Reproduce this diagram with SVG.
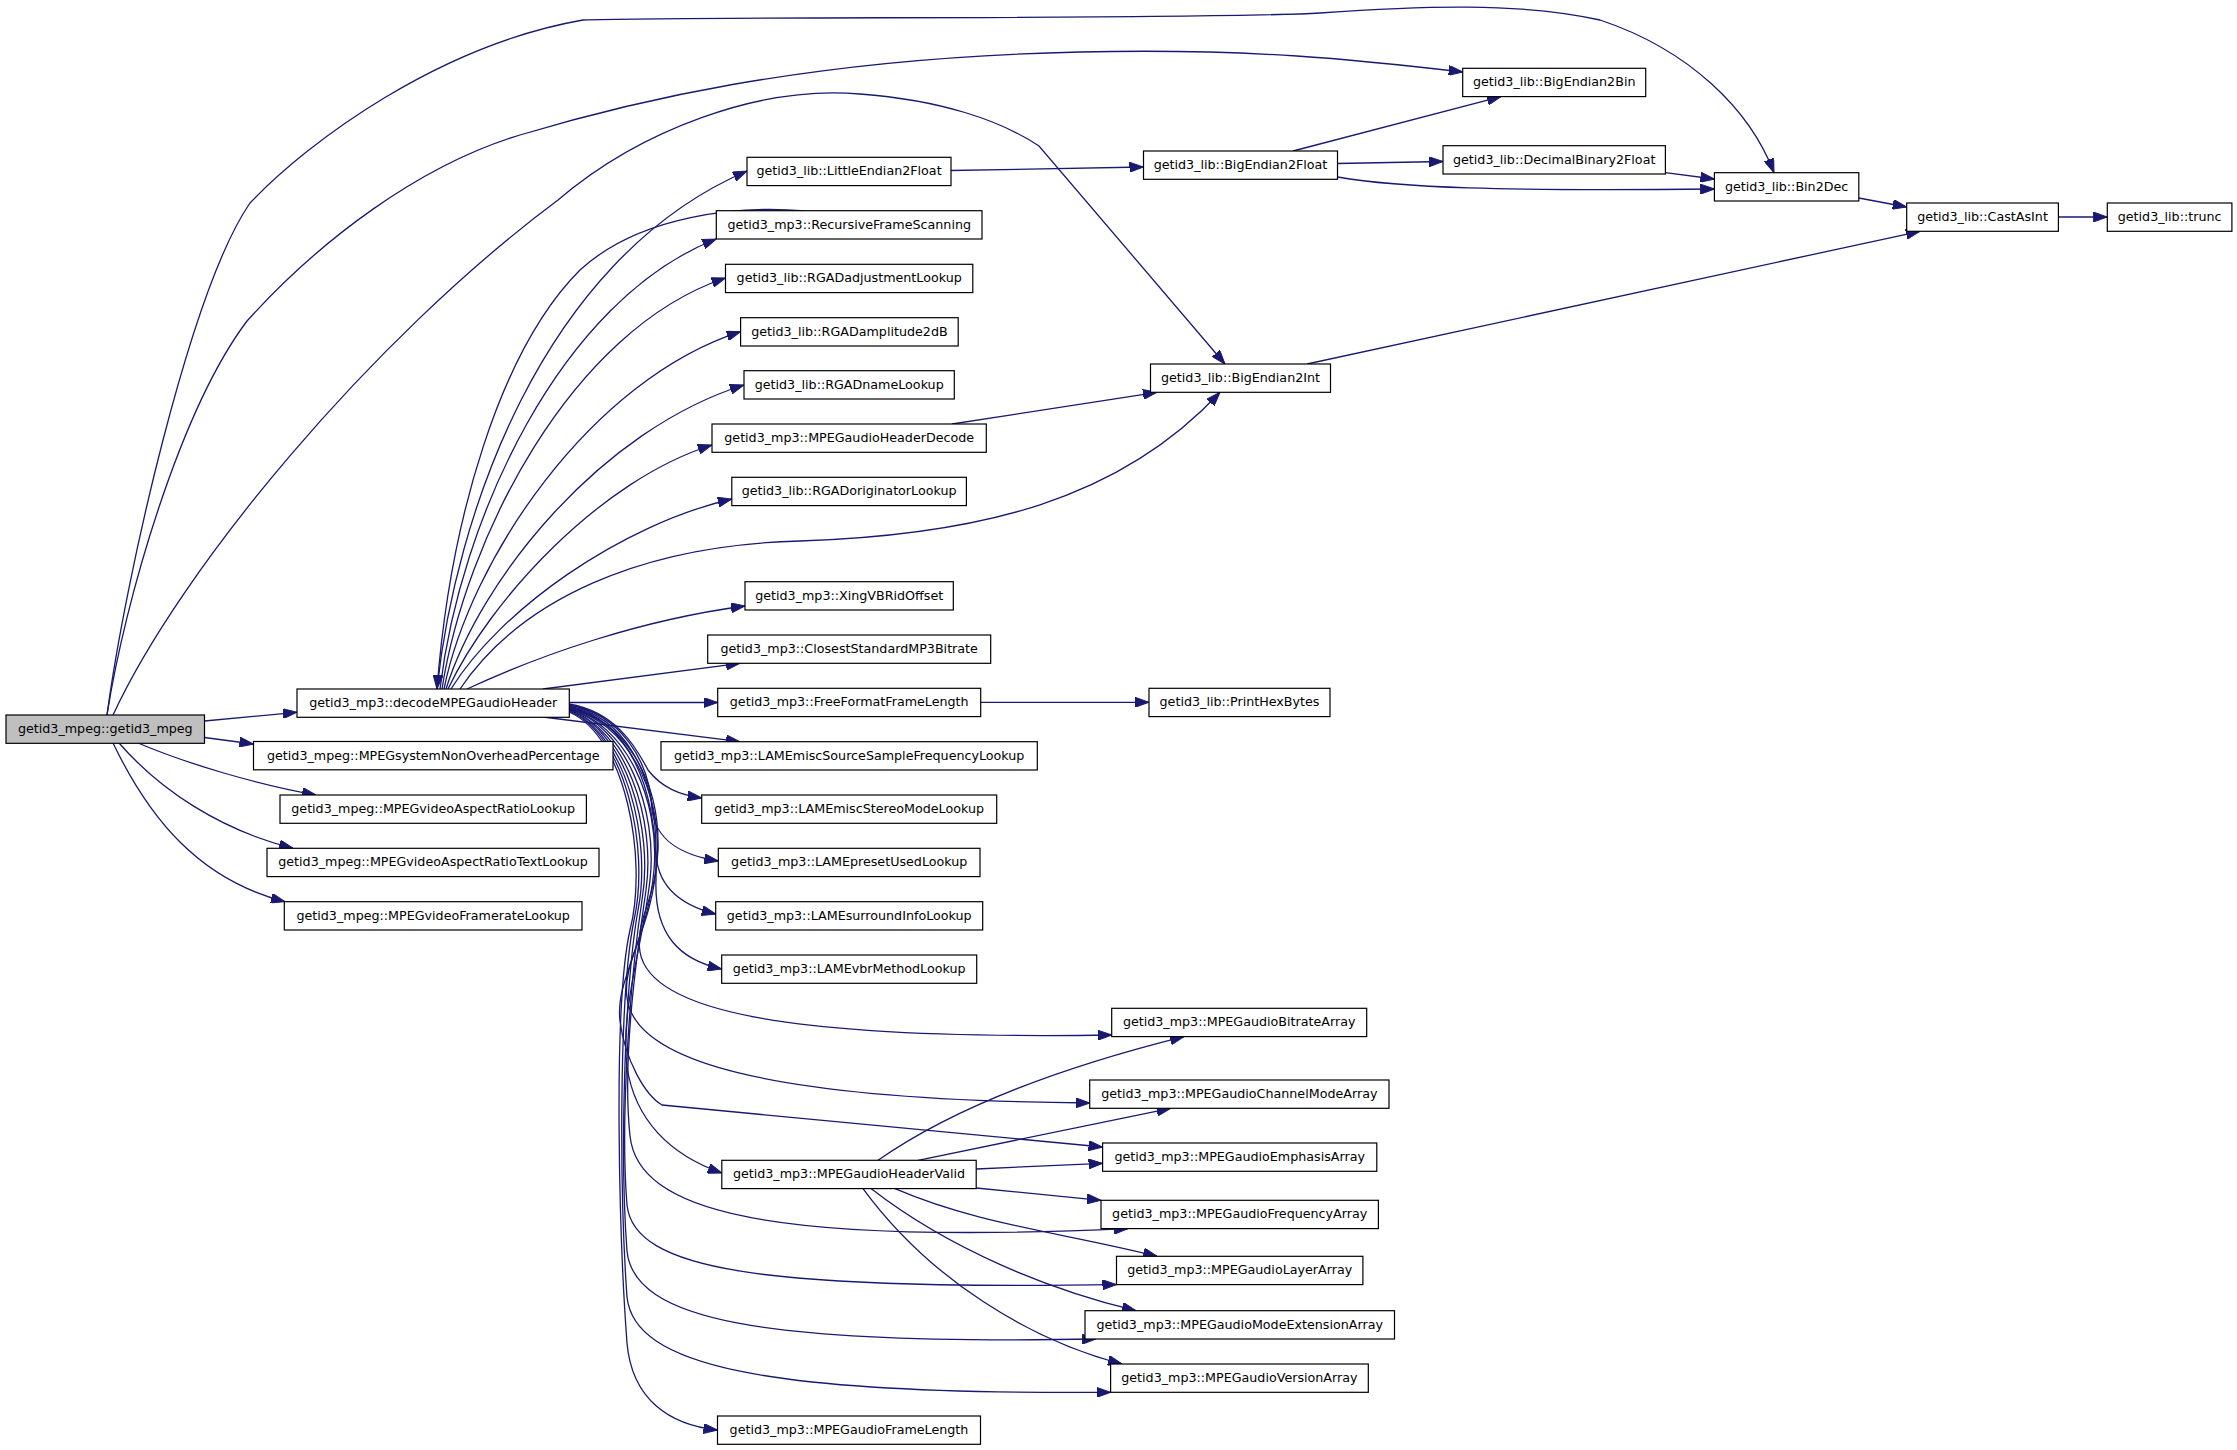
<svg xmlns="http://www.w3.org/2000/svg" width="2237" height="1450" viewBox="0 0 2237 1450">
<style>
.node rect{fill:#fff;stroke:#000;stroke-width:1.2}
.node text{font-family:"DejaVu Sans","Liberation Sans",sans-serif;font-size:12.7px;text-anchor:middle;fill:#000}
#n0 rect{fill:#bfbfbf}
.edges path{fill:none;stroke:#191970;stroke-width:1.3;marker-end:url(#arr)}
</style>
<defs>
<marker id="arr" markerUnits="userSpaceOnUse" markerWidth="14" markerHeight="10" refX="14" refY="5" orient="auto">
<path d="M0,0 L14,5 L0,10 z" fill="#191970" stroke="#191970" stroke-width="1"/>
</marker>
</defs>
<rect width="2237" height="1450" fill="#fff"/>
<g class="edges">
<path d="M204.5,721 L297,712.3"/>
<path d="M204.5,737.5 L253.5,744"/>
<path d="M138,743 C190,765 260,785 316,795"/>
<path d="M119,743 C160,790 220,830 293,848.3"/>
<path d="M113,743 C150,820 200,880 285,901.7"/>
<path d="M107,715 C125,580 190,290 250,203 C310,140 440,45 583,20 C700,16 1200,20 1320,13 C1420,6 1520,2 1600,20 C1690,50 1750,110 1774,172.7"/>
<path d="M107,715 C125,600 180,410 247,321 C320,240 420,165 520,135 C620,105 800,58 1080,52 C1250,48 1360,60 1462.7,72"/>
<path d="M113,715 C180,570 370,340 558,200 C640,130 760,85 860,94 C940,100 1000,120 1039,146 L1225,364"/>
<path d="M437,689 C455,520 540,260 747,171"/>
<path d="M805,211 C740,205 640,215 580,270 C500,350 450,520 437,689"/>
<path d="M440,689 C460,520 560,300 716.3,239"/>
<path d="M442,689 C465,540 570,330 725.5,278"/>
<path d="M444,689 C470,560 590,380 740.6,331.6"/>
<path d="M446,689 C480,580 600,430 744,385"/>
<path d="M448,689 C490,600 600,480 712,445"/>
<path d="M451,689 C500,610 620,525 731.8,499"/>
<path d="M460,689 C520,600 640,545 800,541 C980,535 1120,500 1220,392.3"/>
<path d="M467,689 C540,655 640,620 745,606"/>
<path d="M543,689 L740,663.3"/>
<path d="M569.3,702.5 L717.7,702.5"/>
<path d="M543,717 L740,741.7"/>
<path d="M569,704 C615,712 635,745 648,770 C662,788 680,795 701.7,798"/>
<path d="M569,705 C620,714 650,760 652,810 C656,840 680,855 718.3,861"/>
<path d="M569,706 C622,716 656,770 656,850 C656,885 680,905 715.7,914"/>
<path d="M569,707 C624,718 658,780 656,880 C654,935 680,960 721.7,969"/>
<path d="M569,708 C625,720 660,780 658,850 C656,900 635,920 640,952 C650,1010 780,1040 1111.7,1035"/>
<path d="M569,708 C626,722 662,790 657,860 C652,930 622,960 627,998 C635,1060 760,1100 1089.7,1103"/>
<path d="M569,709 C626,724 660,800 654,870 C648,940 615,980 620,1021 C625,1060 645,1095 662,1105 L1102.6,1147"/>
<path d="M569,709 C626,726 658,810 650,880 C642,950 620,1010 627,1067 C635,1120 670,1155 721.8,1173"/>
<path d="M569,710 C626,728 656,820 646,890 C636,960 622,1060 630,1136 C638,1210 760,1245 1128,1228.6"/>
<path d="M569,710 C626,730 654,830 642,900 C630,980 620,1120 627,1205 C634,1270 760,1290 1116.5,1284.6"/>
<path d="M569,711 C626,732 652,840 638,910 C624,990 620,1160 627,1251 C634,1320 760,1345 1096,1339"/>
<path d="M569,711 C626,734 650,850 634,920 C618,1000 620,1200 627,1297 C634,1365 760,1395 1110.6,1392.3"/>
<path d="M569,712 C626,736 648,860 630,930 C612,1010 620,1250 627,1343 C632,1400 670,1425 717.5,1430"/>
<path d="M878,1160.3 C950,1110 1050,1070 1184,1036.6"/>
<path d="M918,1160.3 L1170.6,1108.3"/>
<path d="M976.2,1169 L1102.6,1163.3"/>
<path d="M976.2,1188 L1101,1200.3"/>
<path d="M895,1188.6 C980,1225 1060,1232 1157,1256.3"/>
<path d="M871,1188.6 C950,1250 1050,1290 1136,1310.7"/>
<path d="M863,1188.6 C930,1280 1030,1340 1122,1364"/>
<path d="M951,170.5 L1143.5,167"/>
<path d="M1293,151 L1501,96.6"/>
<path d="M1337.5,163.5 L1443,161.5"/>
<path d="M1337.5,177 C1400,188 1500,191 1714.4,189"/>
<path d="M1665.4,172.7 L1714.4,179"/>
<path d="M1858.8,198 L1906.7,207"/>
<path d="M2058.4,217 L2107.3,217"/>
<path d="M1307,364 L1920,231.3"/>
<path d="M952,424 L1157,392.3"/>
<path d="M980.7,702.3 L1149,702.3"/>
</g>
<g id="n0" class="node"><rect x="6" y="715" width="198.5" height="28.3"/><text x="105.3" y="733">getid3_mpeg::getid3_mpeg</text></g>
<g id="n1" class="node"><rect x="297" y="689" width="272.3" height="28.3"/><text x="433.2" y="707">getid3_mp3::decodeMPEGaudioHeader</text></g>
<g id="n2" class="node"><rect x="253.5" y="741.5" width="359.5" height="28.3"/><text x="433.3" y="759.5">getid3_mpeg::MPEGsystemNonOverheadPercentage</text></g>
<g id="n3" class="node"><rect x="280" y="795" width="306.4" height="28.3"/><text x="433.2" y="813">getid3_mpeg::MPEGvideoAspectRatioLookup</text></g>
<g id="n4" class="node"><rect x="267" y="848.3" width="332" height="28.3"/><text x="433" y="866.3">getid3_mpeg::MPEGvideoAspectRatioTextLookup</text></g>
<g id="n5" class="node"><rect x="284.3" y="901.7" width="297.7" height="28.3"/><text x="433.2" y="919.7">getid3_mpeg::MPEGvideoFramerateLookup</text></g>
<g id="n6" class="node"><rect x="747" y="157.3" width="204" height="28.3"/><text x="849" y="175.3">getid3_lib::LittleEndian2Float</text></g>
<g id="n7" class="node"><rect x="716.3" y="210.7" width="265.7" height="28.3"/><text x="849.2" y="228.7">getid3_mp3::RecursiveFrameScanning</text></g>
<g id="n8" class="node"><rect x="725.5" y="264.3" width="247.3" height="28.3"/><text x="849.2" y="282.3">getid3_lib::RGADadjustmentLookup</text></g>
<g id="n9" class="node"><rect x="740.6" y="317.7" width="217.6" height="28.3"/><text x="849.4" y="335.7">getid3_lib::RGADamplitude2dB</text></g>
<g id="n10" class="node"><rect x="744" y="370.7" width="210.3" height="28.3"/><text x="849.2" y="388.7">getid3_lib::RGADnameLookup</text></g>
<g id="n11" class="node"><rect x="712" y="424" width="274.3" height="28.3"/><text x="849.2" y="442">getid3_mp3::MPEGaudioHeaderDecode</text></g>
<g id="n12" class="node"><rect x="731.8" y="477.3" width="234.6" height="28.3"/><text x="849.1" y="495.3">getid3_lib::RGADoriginatorLookup</text></g>
<g id="n13" class="node"><rect x="745" y="581.7" width="208.3" height="28.3"/><text x="849.2" y="599.7">getid3_mp3::XingVBRidOffset</text></g>
<g id="n14" class="node"><rect x="707.7" y="635" width="283" height="28.3"/><text x="849.2" y="653">getid3_mp3::ClosestStandardMP3Bitrate</text></g>
<g id="n15" class="node"><rect x="717.7" y="688.3" width="263" height="28.3"/><text x="849.2" y="706.3">getid3_mp3::FreeFormatFrameLength</text></g>
<g id="n16" class="node"><rect x="661" y="741.7" width="376.3" height="28.3"/><text x="849.2" y="759.7">getid3_mp3::LAMEmiscSourceSampleFrequencyLookup</text></g>
<g id="n17" class="node"><rect x="701.7" y="795" width="295" height="28.3"/><text x="849.2" y="813">getid3_mp3::LAMEmiscStereoModeLookup</text></g>
<g id="n18" class="node"><rect x="718.3" y="848.3" width="261.7" height="28.3"/><text x="849.2" y="866.3">getid3_mp3::LAMEpresetUsedLookup</text></g>
<g id="n19" class="node"><rect x="715.7" y="901.7" width="267" height="28.3"/><text x="849.2" y="919.7">getid3_mp3::LAMEsurroundInfoLookup</text></g>
<g id="n20" class="node"><rect x="721.7" y="955" width="255" height="28.3"/><text x="849.2" y="973">getid3_mp3::LAMEvbrMethodLookup</text></g>
<g id="n21" class="node"><rect x="721.8" y="1160.3" width="254.4" height="28.3"/><text x="849" y="1178.3">getid3_mp3::MPEGaudioHeaderValid</text></g>
<g id="n22" class="node"><rect x="717.5" y="1416" width="263" height="28.3"/><text x="849" y="1434">getid3_mp3::MPEGaudioFrameLength</text></g>
<g id="n23" class="node"><rect x="1111.7" y="1008.3" width="255" height="28.3"/><text x="1239.2" y="1026.3">getid3_mp3::MPEGaudioBitrateArray</text></g>
<g id="n24" class="node"><rect x="1089.7" y="1080" width="299.3" height="28.3"/><text x="1239.3" y="1098">getid3_mp3::MPEGaudioChannelModeArray</text></g>
<g id="n25" class="node"><rect x="1102.6" y="1143" width="274.2" height="28.3"/><text x="1239.7" y="1161">getid3_mp3::MPEGaudioEmphasisArray</text></g>
<g id="n26" class="node"><rect x="1101" y="1200.3" width="277.4" height="28.3"/><text x="1239.7" y="1218.3">getid3_mp3::MPEGaudioFrequencyArray</text></g>
<g id="n27" class="node"><rect x="1116.5" y="1256.3" width="246.4" height="28.3"/><text x="1239.7" y="1274.3">getid3_mp3::MPEGaudioLayerArray</text></g>
<g id="n28" class="node"><rect x="1085" y="1310.7" width="309.5" height="28.3"/><text x="1239.7" y="1328.7">getid3_mp3::MPEGaudioModeExtensionArray</text></g>
<g id="n29" class="node"><rect x="1110.6" y="1364" width="257.7" height="28.3"/><text x="1239.4" y="1382">getid3_mp3::MPEGaudioVersionArray</text></g>
<g id="n30" class="node"><rect x="1149" y="688.3" width="181" height="28.3"/><text x="1239.5" y="706.3">getid3_lib::PrintHexBytes</text></g>
<g id="n31" class="node"><rect x="1143.5" y="151" width="194" height="28.3"/><text x="1240.5" y="169">getid3_lib::BigEndian2Float</text></g>
<g id="n32" class="node"><rect x="1150.5" y="364" width="180" height="28.3"/><text x="1240.5" y="382">getid3_lib::BigEndian2Int</text></g>
<g id="n33" class="node"><rect x="1462.7" y="68.3" width="183" height="28.3"/><text x="1554.2" y="86.3">getid3_lib::BigEndian2Bin</text></g>
<g id="n34" class="node"><rect x="1443" y="145.7" width="222.4" height="28.3"/><text x="1554.2" y="163.7">getid3_lib::DecimalBinary2Float</text></g>
<g id="n35" class="node"><rect x="1714.4" y="172.7" width="144.4" height="28.3"/><text x="1786.6" y="190.7">getid3_lib::Bin2Dec</text></g>
<g id="n36" class="node"><rect x="1906.7" y="203" width="151.7" height="28.3"/><text x="1982.5" y="221">getid3_lib::CastAsInt</text></g>
<g id="n37" class="node"><rect x="2107.3" y="203" width="124.6" height="28.3"/><text x="2169.6" y="221">getid3_lib::trunc</text></g>
</svg>
